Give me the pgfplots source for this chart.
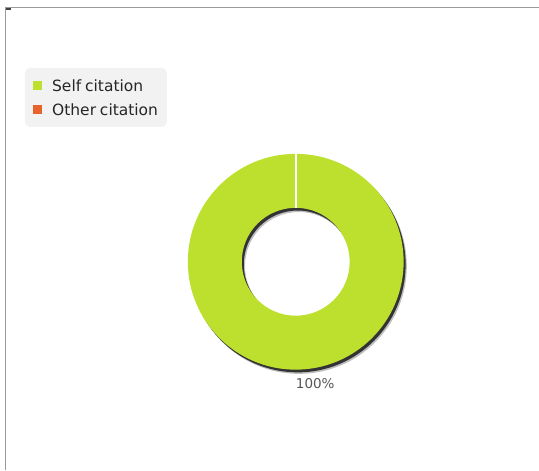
\documentclass[border=0pt]{standalone}
\usepackage{pgfplots}
\usepackage{pgfplotstable}
\usepackage{fontspec}
\setmainfont{DejaVu Sans}
\pgfplotsset{compat=1.18}
\definecolor{selfc}{HTML}{BDE02F}
\definecolor{otherc}{HTML}{E8632B}
\definecolor{frame}{HTML}{9A9A9A}
\definecolor{legbg}{HTML}{F2F2F2}
\definecolor{labc}{HTML}{555555}

\pgfplotstableread{
category value
Self 100
Other 0
}\citedata

\pgfplotstablegetelem{0}{value}\of\citedata
\let\selfval\pgfplotsretval
\pgfplotstablegetelem{1}{value}\of\citedata
\let\otherval\pgfplotsretval
\pgfmathsetmacro{\total}{\selfval+\otherval}
\pgfmathsetmacro{\selffrac}{\selfval/\total}
\pgfmathsetmacro{\otherfrac}{\otherval/\total}
\pgfmathsetmacro{\selfend}{90-360*\selffrac}
\pgfmathsetmacro{\otherend}{\selfend-360*\otherfrac}
\pgfmathtruncatemacro{\selfpct}{round(100*\selffrac)}

\begin{document}
\begin{tikzpicture}
\begin{axis}[
  width=539pt, height=470pt, scale only axis,
  xmin=0, xmax=539, ymin=0, ymax=470,
  hide axis, clip=false,
]
% bounding box
\path (axis cs:0,0) rectangle (axis cs:539,470);
% frame lines
\draw[frame, line width=1pt] (axis cs:6,0) -- (axis cs:6,462) -- (axis cs:539,462);
\fill[black!75] (axis cs:6.5,462) rectangle (axis cs:11,460);

% donut: centre (296,208), outer 108, inner 54
\def\cx{296}\def\cy{208}\def\Ro{108}\def\Ri{54}
% shadow
\fill[black!25, even odd rule] (axis cs:\cx+3.2,\cy-4.2) circle[radius=\Ro] (axis cs:\cx+3.2,\cy-4.2) circle[radius=\Ri];
\fill[black!80, even odd rule] (axis cs:\cx+2,\cy-2.7) circle[radius=\Ro] (axis cs:\cx+2,\cy-2.7) circle[radius=\Ri];
% self citation slice
\fill[selfc] (axis cs:\cx,\cy+\Ro) arc[start angle=90, end angle=\selfend, radius=\Ro pt]
   -- (axis cs:{\cx+\Ri*cos(\selfend)},{\cy+\Ri*sin(\selfend)}) arc[start angle=\selfend, end angle=90, radius=\Ri pt] -- cycle;
% other citation slice (zero)
\pgfmathtruncatemacro{\hasother}{\otherval>0?1:0}
\ifnum\hasother=1
\fill[otherc] (axis cs:{\cx+\Ro*cos(\selfend)},{\cy+\Ro*sin(\selfend)}) arc[start angle=\selfend, end angle=\otherend, radius=\Ro pt]
   -- (axis cs:{\cx+\Ri*cos(\otherend)},{\cy+\Ri*sin(\otherend)}) arc[start angle=\otherend, end angle=\selfend, radius=\Ri pt] -- cycle;
\fi
% slice separator
\draw[white, line width=1.8pt] (axis cs:\cx,\cy+\Ri-0.3) -- (axis cs:\cx,\cy+\Ro+0.3);
% label
\node[anchor=base, text=labc, font=\fontsize{13.5}{16}\selectfont, inner sep=0pt] at (axis cs:315.5,81) {\selfpct\%};

% legend
\fill[legbg, rounded corners=5pt] (axis cs:25,402) rectangle (axis cs:167,343);
\fill[selfc] (axis cs:33,389) rectangle (axis cs:42,380);
\fill[otherc] (axis cs:33,365) rectangle (axis cs:42,356);
\node[anchor=base west, inner sep=0pt, text=black!85, font=\fontsize{15.5}{18}\selectfont] at (axis cs:52,378.5) {Self\hspace{0.25em}citation};
\node[anchor=base west, inner sep=0pt, text=black!85, font=\fontsize{15.5}{18}\selectfont] at (axis cs:52,354.5) {Other\hspace{0.25em}citation};
\end{axis}
\end{tikzpicture}
\end{document}
